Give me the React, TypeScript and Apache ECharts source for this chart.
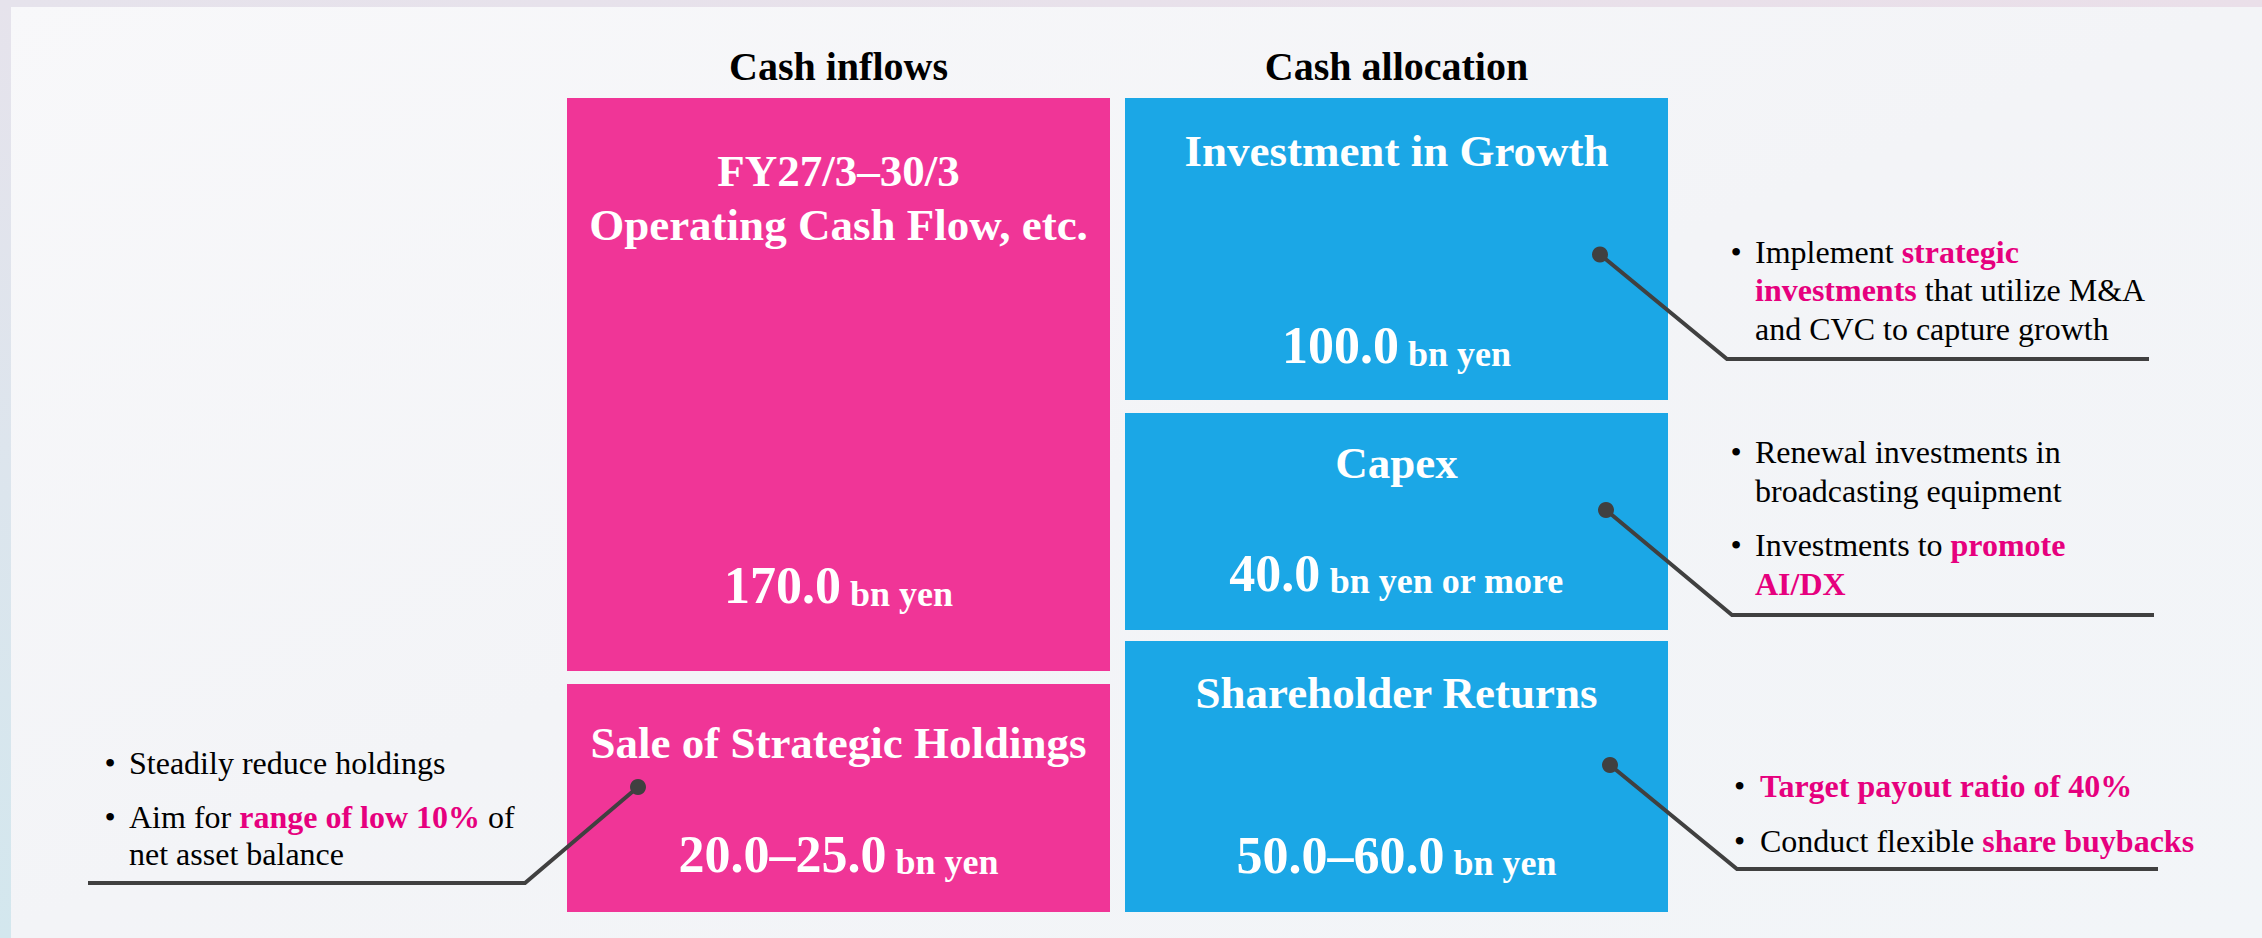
import { useEffect, useRef } from "react";
import * as echarts from "echarts";

// ---------- data ----------
const columnTitles = ["Cash inflows", "Cash allocation"];

const inflowTitles = [["FY27/3–30/3", "Operating Cash Flow, etc."], ["Sale of Strategic Holdings"]];
const inflowValues = ["170.0", "20.0–25.0"];
const inflowUnits = ["bn yen", "bn yen"];

const allocTitles = [["Investment in Growth"], ["Capex"], ["Shareholder Returns"]];
const allocValues = ["100.0", "40.0", "50.0–60.0"];
const allocUnits = ["bn yen", "bn yen or more", "bn yen"];

// note lines: [text, highlighted(1) or plain(0)] segments; bullet = start of an item
const growthNotes = [
  { bullet: true, segs: [["Implement ", 0], ["strategic", 1]] },
  { bullet: false, segs: [["investments", 1], [" that utilize M&A", 0]] },
  { bullet: false, segs: [["and CVC to capture growth", 0]] },
];
const capexNotes = [
  { bullet: true, segs: [["Renewal investments in", 0]] },
  { bullet: false, segs: [["broadcasting equipment", 0]] },
  { bullet: true, segs: [["Investments to ", 0], ["promote", 1]] },
  { bullet: false, segs: [["AI/DX", 1]] },
];
const returnNotes = [
  { bullet: true, segs: [["Target payout ratio of 40%", 1]] },
  { bullet: true, segs: [["Conduct flexible ", 0], ["share buybacks", 1]] },
];
const holdingNotes = [
  { bullet: true, segs: [["Steadily reduce holdings", 0]] },
  { bullet: true, segs: [["Aim for ", 0], ["range of low 10%", 1], [" of", 0]] },
  { bullet: false, segs: [["net asset balance", 0]] },
];

// ---------- layout & style ----------
const FONT = '"Liberation Serif", "Times New Roman", serif';
const PINK = "#f03597";
const BLUE = "#1ba7e6";
const HILITE = "#e6007e";
const LINE = "#404040";
const CENTRAL = 0.3375; // central-baseline offset (em) for Liberation Serif

const inflowLayout = [
  { x: 567, y: 98, w: 543, h: 573, titleBase: [185.7, 240], valueBase: 603.5 },
  { x: 567, y: 684, w: 543, h: 228, titleBase: [758], valueBase: 872 },
];
const allocLayout = [
  { x: 1125, y: 98, w: 543, h: 302, titleBase: [166.5], valueBase: 363.5 },
  { x: 1125, y: 413, w: 543, h: 217, titleBase: [478], valueBase: 591 },
  { x: 1125, y: 641, w: 543, h: 271, titleBase: [708], valueBase: 873 },
];
const noteLayout = [
  { notes: growthNotes, textX: 1755, bulletX: 1730.5, base: [262.5, 301, 339.5], pts: [[1600, 254.5], [1727, 359], [2149, 359]] },
  { notes: capexNotes, textX: 1755, bulletX: 1730.5, base: [463, 502, 556, 594.5], pts: [[1606, 510], [1732, 615], [2154, 615]] },
  { notes: returnNotes, textX: 1760, bulletX: 1734, base: [797, 852], pts: [[1610, 765], [1737, 869], [2158, 869]] },
  { notes: holdingNotes, textX: 129, bulletX: 104.5, base: [774, 828, 865], pts: [[638, 787], [525, 883], [88, 883]] },
];

function topFor(baseline: number, size: number, lh: number) {
  return baseline - lh / 2 - CENTRAL * size;
}

function buildGraphic() {
  const g: any[] = [];

  // background frame
  g.push({
    type: "rect",
    shape: { x: 0, y: 0, width: 2262, height: 938 },
    style: {
      fill: {
        type: "linear", x: 0, y: 0, x2: 1, y2: 1,
        colorStops: [
          { offset: 0, color: "#f8f8fa" },
          { offset: 0.5, color: "#f3f4f7" },
          { offset: 1, color: "#f2f5f8" },
        ],
      },
    },
    silent: true,
  });
  g.push({
    type: "rect",
    shape: { x: 0, y: 0, width: 2262, height: 7 },
    style: {
      fill: {
        type: "linear", x: 0, y: 0, x2: 1, y2: 0,
        colorStops: [
          { offset: 0, color: "#e6e3ec" },
          { offset: 1, color: "#eadfe9" },
        ],
      },
    },
    silent: true,
  });
  g.push({
    type: "rect",
    shape: { x: 0, y: 0, width: 11, height: 938 },
    style: {
      fill: {
        type: "linear", x: 0, y: 0, x2: 0, y2: 1,
        colorStops: [
          { offset: 0, color: "#e6e3ec" },
          { offset: 1, color: "#d3e7ee" },
        ],
      },
    },
    silent: true,
  });

  // column headers
  const headerX = [
    inflowLayout[0].x + inflowLayout[0].w / 2,
    allocLayout[0].x + allocLayout[0].w / 2,
  ];
  columnTitles.forEach((t, i) => {
    g.push({
      type: "text",
      x: headerX[i],
      y: topFor(79.5, 40, 40),
      style: {
        text: t,
        fontFamily: FONT,
        fontSize: 40,
        fontWeight: "bold",
        lineHeight: 40,
        fill: "#000",
        align: "center",
        verticalAlign: "top",
        textAlign: "center",
        textVerticalAlign: "top",
      },
    });
  });

  const addBox = (lay: any, color: string, titleLines: string[], value: string, unit: string) => {
    g.push({
      type: "rect",
      shape: { x: lay.x, y: lay.y, width: lay.w, height: lay.h },
      style: { fill: color },
    });
    const cx = lay.x + lay.w / 2;
    titleLines.forEach((line, i) => {
      g.push({
        type: "text",
        x: cx,
        y: topFor(lay.titleBase[i], 45, 54),
        style: {
          text: line,
          fontFamily: FONT,
          fontSize: 45,
          fontWeight: "bold",
          lineHeight: 54,
          fill: "#fff",
          align: "center",
          verticalAlign: "top",
          textAlign: "center",
          textVerticalAlign: "top",
        },
      });
    });
    g.push({
      type: "text",
      x: cx,
      y: lay.valueBase + 8.45,
      style: {
        text: `{v|${value}}{u| ${unit}}`,
        fontFamily: FONT,
        fontSize: 36,
        fontWeight: "bold",
        lineHeight: 41,
        fill: "#fff",
        align: "center",
        verticalAlign: "bottom",
        textAlign: "center",
        textVerticalAlign: "bottom",
        rich: {
          v: { fontFamily: FONT, fontSize: 52, fontWeight: "bold", lineHeight: 52, fill: "#fff", verticalAlign: "bottom" },
          u: { fontFamily: FONT, fontSize: 36, fontWeight: "bold", lineHeight: 41, fill: "#fff", verticalAlign: "bottom" },
        },
      },
    });
  };

  inflowLayout.forEach((lay, i) => addBox(lay, PINK, inflowTitles[i], inflowValues[i], inflowUnits[i]));
  allocLayout.forEach((lay, i) => addBox(lay, BLUE, allocTitles[i], allocValues[i], allocUnits[i]));

  // callout notes
  noteLayout.forEach((nl) => {
    g.push({
      type: "polyline",
      shape: { points: nl.pts },
      style: { stroke: LINE, lineWidth: 4, fill: null, lineJoin: "miter", lineCap: "butt" },
      z: 10,
    });
    g.push({
      type: "circle",
      shape: { cx: nl.pts[0][0], cy: nl.pts[0][1], r: 8 },
      style: { fill: LINE },
      z: 11,
    });
    nl.notes.forEach((ln: any, i: number) => {
      const top = topFor(nl.base[i], 32, 32);
      if (ln.bullet) {
        g.push({
          type: "text",
          x: nl.bulletX,
          y: top,
          style: {
            text: "•",
            fontFamily: FONT,
            fontSize: 32,
            lineHeight: 32,
            fill: "#000",
            align: "left",
            verticalAlign: "top",
            textAlign: "left",
            textVerticalAlign: "top",
          },
        });
      }
      const txt = ln.segs.map((s: any) => `{${s[1] ? "h" : "n"}|${s[0]}}`).join("");
      g.push({
        type: "text",
        x: nl.textX,
        y: top,
        style: {
          text: txt,
          fontFamily: FONT,
          fontSize: 32,
          lineHeight: 32,
          fill: "#000",
          align: "left",
          verticalAlign: "top",
          textAlign: "left",
          textVerticalAlign: "top",
          rich: {
            n: { fontFamily: FONT, fontSize: 32, lineHeight: 32, fill: "#000" },
            h: { fontFamily: FONT, fontSize: 32, lineHeight: 32, fill: HILITE, fontWeight: "bold" },
          },
        },
      });
    });
  });

  return g;
}

export default function App() {
  const ref = useRef<HTMLDivElement>(null);
  useEffect(() => {
    if (!ref.current) return;
    const chart = echarts.init(ref.current, undefined, { renderer: "svg" });
    chart.setOption({
      animation: false,
      backgroundColor: "#f4f5f8",
      graphic: buildGraphic(),
    });
    return () => chart.dispose();
  }, []);
  return (
    <div
      ref={ref}
      style={{ position: "fixed", left: 0, top: 0, width: 2262, height: 938 }}
    />
  );
}
